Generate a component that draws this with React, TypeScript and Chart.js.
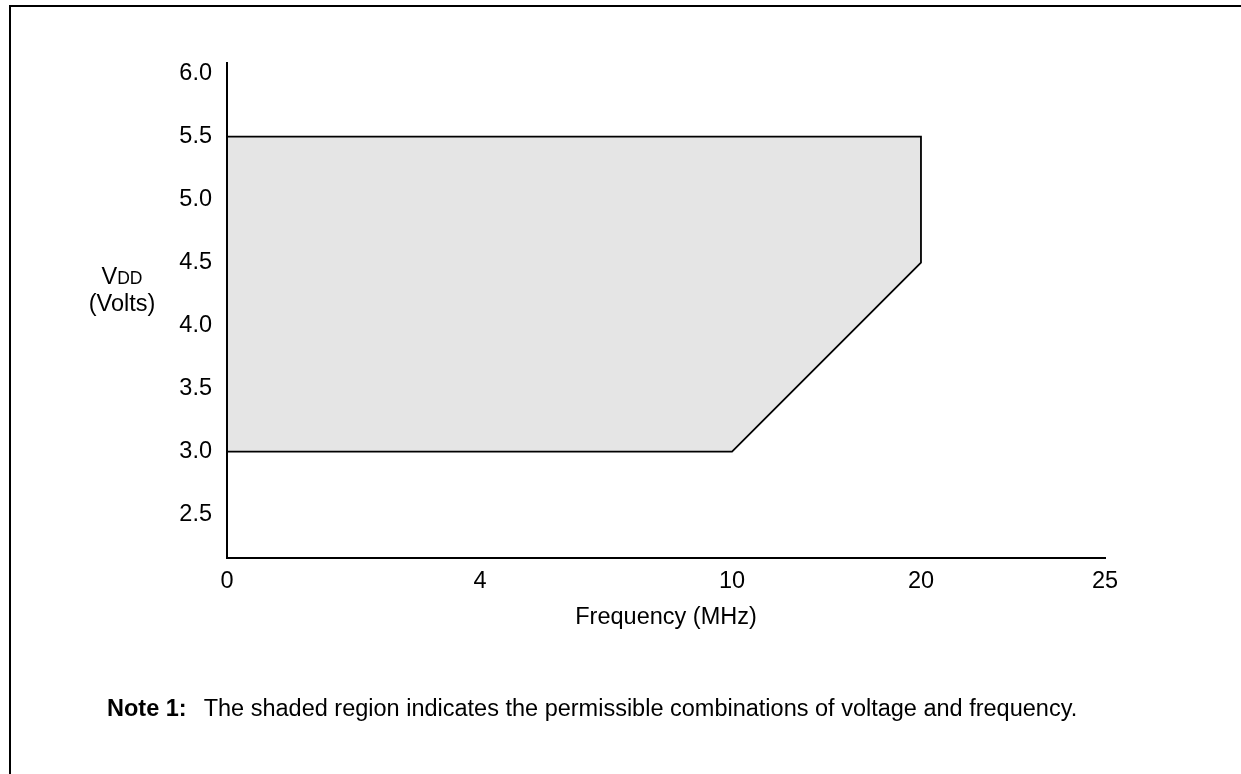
import React, { useEffect, useRef } from 'react';
import { Chart, registerables } from 'chart.js';

Chart.register(...registerables);

// Frequency axis: tick values and their (unevenly spaced) places along the axis, 0..1
const freqTicks = [0, 4, 10, 20, 25];
const freqTickPos = [0, 0.2882, 0.5752, 0.7904, 1];
// Voltage axis ticks
const voltTicks = [2.5, 3.0, 3.5, 4.0, 4.5, 5.0, 5.5, 6.0];
// Permissible operating region outline (frequency MHz, VDD volts)
const regionFreq = [0, 20, 20, 10, 0];
const regionVdd = [5.5, 5.5, 4.5, 3.0, 3.0];

const FONT = "'Liberation Sans', Arial, Helvetica, sans-serif";
const FS = 23.5;

function freqToPos(f: number): number {
  for (let i = 0; i < freqTicks.length - 1; i++) {
    const a = freqTicks[i];
    const b = freqTicks[i + 1];
    if (f >= a && f <= b) {
      const t = (f - a) / (b - a);
      return freqTickPos[i] + t * (freqTickPos[i + 1] - freqTickPos[i]);
    }
  }
  return f <= freqTicks[0] ? freqTickPos[0] : freqTickPos[freqTickPos.length - 1];
}

export default function App() {
  const ref = useRef<HTMLCanvasElement | null>(null);

  useEffect(() => {
    if (!ref.current) return;
    const data = regionFreq.map((f, i) => ({ x: freqToPos(f), y: regionVdd[i] }));
    const chart = new Chart(ref.current, {
      type: 'scatter',
      data: {
        datasets: [
          {
            data,
            showLine: true,
            pointRadius: 0,
            borderColor: '#000000',
            borderWidth: 1.8,
            backgroundColor: '#e5e5e5',
            fill: 'shape',
            tension: 0,
          } as any,
        ],
      },
      options: {
        animation: false,
        responsive: false,
        maintainAspectRatio: false,
        layout: { padding: { top: 63, right: 136, left: 0, bottom: 0 } },
        plugins: { legend: { display: false }, tooltip: { enabled: false }, title: { display: false } },
        scales: {
          x: {
            type: 'linear',
            min: 0,
            max: 1,
            grid: { display: false, drawTicks: false },
            border: { display: true, color: '#000000', width: 2, z: 1 },
            afterBuildTicks: (s: any) => {
              s.ticks = freqTickPos.map((v) => ({ value: v }));
            },
            afterFit: (s: any) => {
              s.height = 216;
            },
            ticks: {
              color: '#000000',
              padding: 9,
              maxRotation: 0,
              autoSkip: false,
              font: { family: FONT, size: FS },
              callback: (_v: any, i: number) => String(freqTicks[i]),
            },
            title: {
              display: true,
              text: 'Frequency (MHz)',
              color: '#000000',
              font: { family: FONT, size: FS },
              padding: { top: 0, bottom: 142 },
            },
          },
          y: {
            type: 'linear',
            min: 2.156,
            max: 6.085,
            grid: { display: false, drawTicks: false },
            border: { display: true, color: '#000000', width: 2, z: 1 },
            afterBuildTicks: (s: any) => {
              s.ticks = voltTicks.map((v) => ({ value: v }));
            },
            afterFit: (s: any) => {
              s.width = 227;
            },
            ticks: {
              color: '#000000',
              padding: 15,
              font: { family: FONT, size: FS },
              callback: (v: any) => Number(v).toFixed(1),
            },
          },
        },
      },
    });
    return () => chart.destroy();
  }, []);

  return (
    <div style={{ position: 'absolute', left: 0, top: 0, width: 1241, height: 774, background: '#ffffff', overflow: 'hidden', fontFamily: FONT }}>
      <div
        style={{
          position: 'absolute',
          left: 9,
          top: 5,
          width: 1241,
          height: 774,
          borderTop: '2px solid #000',
          borderLeft: '2px solid #000',
        }}
      />
      <canvas ref={ref} width={1241} height={774} style={{ position: 'absolute', left: 0, top: 0, width: 1241, height: 774 }} />
      <div
        style={{
          position: 'absolute',
          left: 72,
          top: 264,
          width: 100,
          textAlign: 'center',
          fontSize: FS,
          lineHeight: '25px',
          color: '#000',
        }}
      >
        <div>
          V<span style={{ fontSize: 17.5 }}>DD</span>
        </div>
        <div>(Volts)</div>
      </div>
      <div
        style={{
          position: 'absolute',
          left: 107,
          top: 695,
          fontSize: FS,
          whiteSpace: 'nowrap',
          color: '#000',
        }}
      >
        <b>Note 1:</b>
        <span style={{ marginLeft: 17 }}>The shaded region indicates the permissible combinations of voltage and frequency.</span>
      </div>
    </div>
  );
}
